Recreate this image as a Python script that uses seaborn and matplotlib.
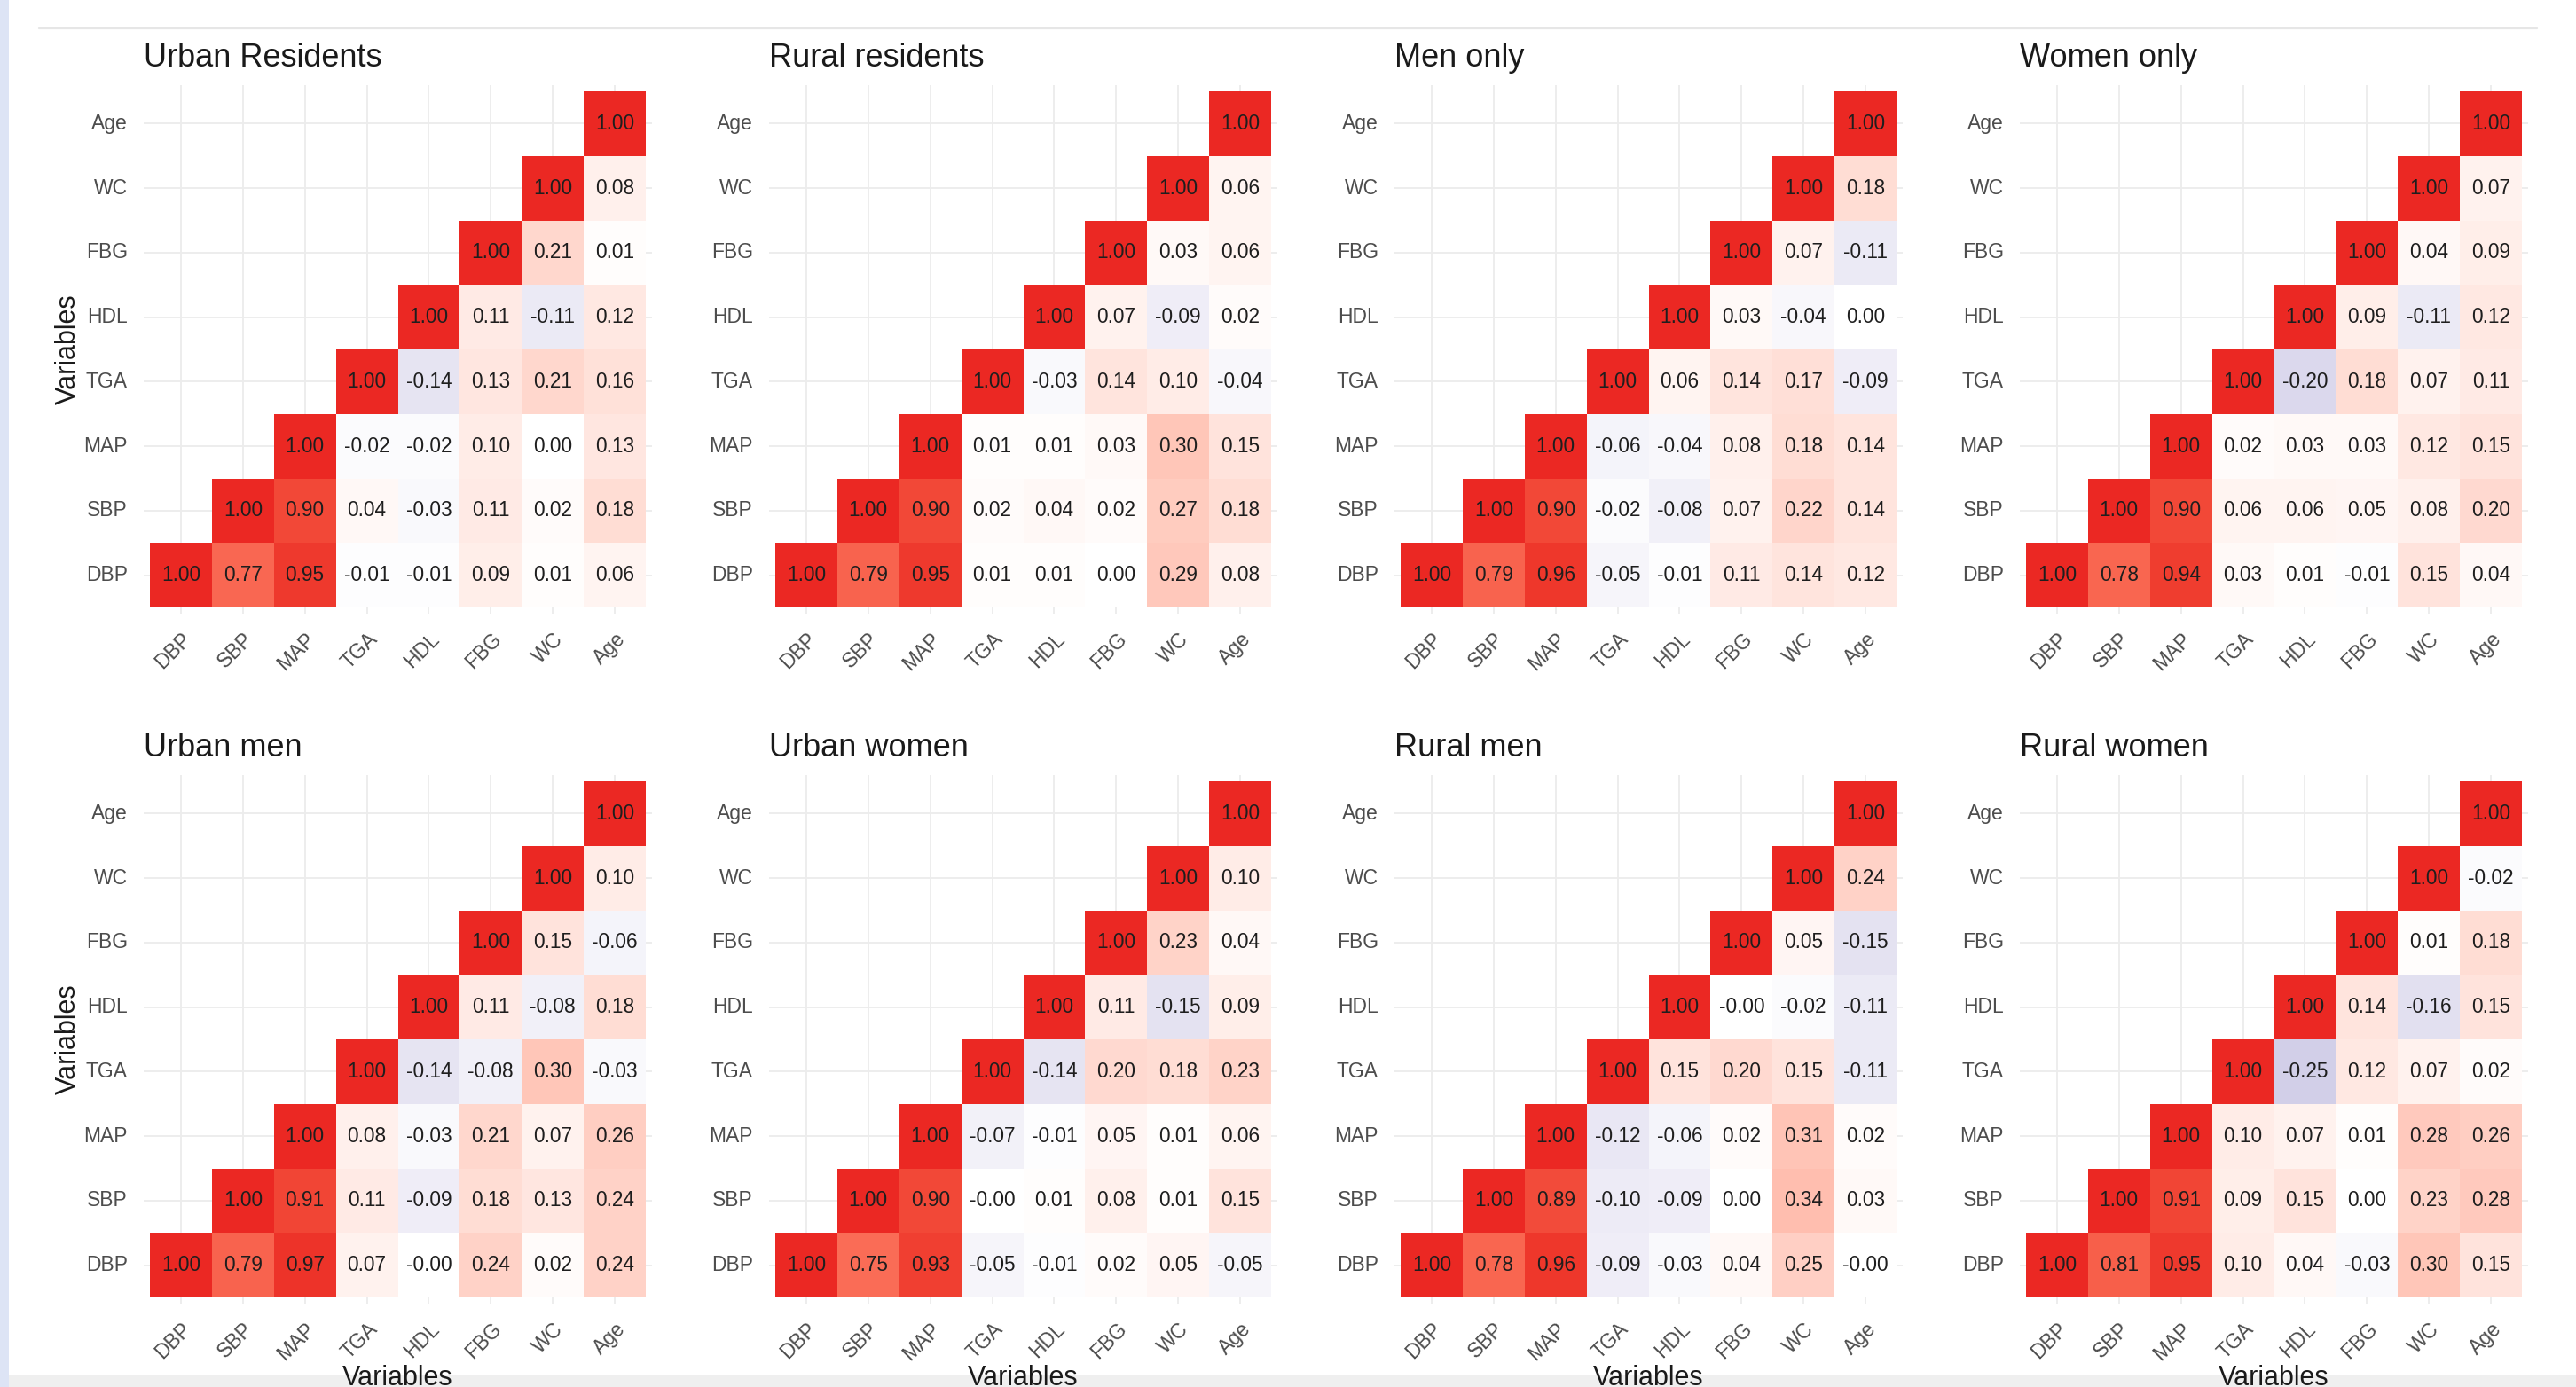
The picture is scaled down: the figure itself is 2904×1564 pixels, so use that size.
import numpy as np
import pandas as pd
import matplotlib
matplotlib.use("Agg")
import matplotlib.pyplot as plt
import seaborn as sns
from matplotlib.colors import ListedColormap, to_rgb
from matplotlib.patches import Rectangle
from matplotlib.lines import Line2D

# ---------------- data ----------------
variables = ["DBP", "SBP", "MAP", "TGA", "HDL", "FBG", "WC", "Age"]

panel_titles = ["Urban Residents", "Rural residents", "Men only", "Women only",
                "Urban men", "Urban women", "Rural men", "Rural women"]

# each row: correlations of a variable with itself and the variables after it
urban_residents = [
    [1.00, 0.77, 0.95, -0.01, -0.01, 0.09, 0.01, 0.06],
    [1.00, 0.90, 0.04, -0.03, 0.11, 0.02, 0.18],
    [1.00, -0.02, -0.02, 0.10, 0.00, 0.13],
    [1.00, -0.14, 0.13, 0.21, 0.16],
    [1.00, 0.11, -0.11, 0.12],
    [1.00, 0.21, 0.01],
    [1.00, 0.08],
    [1.00],
]
rural_residents = [
    [1.00, 0.79, 0.95, 0.01, 0.01, 0.00, 0.29, 0.08],
    [1.00, 0.90, 0.02, 0.04, 0.02, 0.27, 0.18],
    [1.00, 0.01, 0.01, 0.03, 0.30, 0.15],
    [1.00, -0.03, 0.14, 0.10, -0.04],
    [1.00, 0.07, -0.09, 0.02],
    [1.00, 0.03, 0.06],
    [1.00, 0.06],
    [1.00],
]
men_only = [
    [1.00, 0.79, 0.96, -0.05, -0.01, 0.11, 0.14, 0.12],
    [1.00, 0.90, -0.02, -0.08, 0.07, 0.22, 0.14],
    [1.00, -0.06, -0.04, 0.08, 0.18, 0.14],
    [1.00, 0.06, 0.14, 0.17, -0.09],
    [1.00, 0.03, -0.04, 0.00],
    [1.00, 0.07, -0.11],
    [1.00, 0.18],
    [1.00],
]
women_only = [
    [1.00, 0.78, 0.94, 0.03, 0.01, -0.01, 0.15, 0.04],
    [1.00, 0.90, 0.06, 0.06, 0.05, 0.08, 0.20],
    [1.00, 0.02, 0.03, 0.03, 0.12, 0.15],
    [1.00, -0.20, 0.18, 0.07, 0.11],
    [1.00, 0.09, -0.11, 0.12],
    [1.00, 0.04, 0.09],
    [1.00, 0.07],
    [1.00],
]
urban_men = [
    [1.00, 0.79, 0.97, 0.07, -0.00, 0.24, 0.02, 0.24],
    [1.00, 0.91, 0.11, -0.09, 0.18, 0.13, 0.24],
    [1.00, 0.08, -0.03, 0.21, 0.07, 0.26],
    [1.00, -0.14, -0.08, 0.30, -0.03],
    [1.00, 0.11, -0.08, 0.18],
    [1.00, 0.15, -0.06],
    [1.00, 0.10],
    [1.00],
]
urban_women = [
    [1.00, 0.75, 0.93, -0.05, -0.01, 0.02, 0.05, -0.05],
    [1.00, 0.90, -0.00, 0.01, 0.08, 0.01, 0.15],
    [1.00, -0.07, -0.01, 0.05, 0.01, 0.06],
    [1.00, -0.14, 0.20, 0.18, 0.23],
    [1.00, 0.11, -0.15, 0.09],
    [1.00, 0.23, 0.04],
    [1.00, 0.10],
    [1.00],
]
rural_men = [
    [1.00, 0.78, 0.96, -0.09, -0.03, 0.04, 0.25, -0.00],
    [1.00, 0.89, -0.10, -0.09, 0.00, 0.34, 0.03],
    [1.00, -0.12, -0.06, 0.02, 0.31, 0.02],
    [1.00, 0.15, 0.20, 0.15, -0.11],
    [1.00, -0.00, -0.02, -0.11],
    [1.00, 0.05, -0.15],
    [1.00, 0.24],
    [1.00],
]
rural_women = [
    [1.00, 0.81, 0.95, 0.10, 0.04, -0.03, 0.30, 0.15],
    [1.00, 0.91, 0.09, 0.15, 0.00, 0.23, 0.28],
    [1.00, 0.10, 0.07, 0.01, 0.28, 0.26],
    [1.00, -0.25, 0.12, 0.07, 0.02],
    [1.00, 0.14, -0.16, 0.15],
    [1.00, 0.01, 0.18],
    [1.00, -0.02],
    [1.00],
]
panel_data = [urban_residents, rural_residents, men_only, women_only,
              urban_men, urban_women, rural_men, rural_women]

# ---------------- colours (Lab interpolation like ggplot gradient2) ----------------
def _srgb_to_lab(rgb):
    c = np.asarray(rgb, float)
    lin = np.where(c <= 0.04045, c / 12.92, ((c + 0.055) / 1.055) ** 2.4)
    M = np.array([[0.4124, 0.3576, 0.1805], [0.2126, 0.7152, 0.0722], [0.0193, 0.1192, 0.9505]])
    xyz = M @ lin / np.array([0.95047, 1.0, 1.08883])
    f = np.where(xyz > 0.008856, np.cbrt(xyz), 7.787 * xyz + 16 / 116)
    return np.array([116 * f[1] - 16, 500 * (f[0] - f[1]), 200 * (f[1] - f[2])])

def _lab_to_srgb(lab):
    L, a, b = lab
    fy = (L + 16) / 116
    fx = fy + a / 500
    fz = fy - b / 200
    f = np.array([fx, fy, fz])
    xyz = np.where(f ** 3 > 0.008856, f ** 3, (f - 16 / 116) / 7.787) * np.array([0.95047, 1.0, 1.08883])
    Minv = np.array([[3.2406, -1.5372, -0.4986], [-0.9689, 1.8758, 0.0415], [0.0557, -0.2040, 1.0570]])
    lin = np.clip(Minv @ xyz, 0, 1)
    s = np.where(lin <= 0.0031308, 12.92 * lin, 1.055 * lin ** (1 / 2.4) - 0.055)
    return np.clip(s, 0, 1)

low_lab = _srgb_to_lab(to_rgb("#464CA2"))
mid_lab = _srgb_to_lab(to_rgb("#FFFFFF"))
high_lab = _srgb_to_lab(to_rgb("#EB2823"))
cols = []
for v in np.linspace(-1, 1, 511):
    if v < 0:
        lab = mid_lab + (-v) * (low_lab - mid_lab)
    else:
        lab = mid_lab + v * (high_lab - mid_lab)
    cols.append(_lab_to_srgb(lab))
cmap = ListedColormap(cols)

# ---------------- figure ----------------
sns.set_theme(style="white")
plt.rcParams["font.family"] = ["Liberation Sans", "DejaVu Sans"]

W, H = 2904, 1564
fig = plt.figure(figsize=(W / 100, H / 100), dpi=100)
fig.patch.set_facecolor("white")

# screenshot frame details
fig.patches.append(Rectangle((0, 0), 10 / W, 1, transform=fig.transFigure,
                             facecolor="#dde4f5", edgecolor="none", zorder=-2))
fig.patches.append(Rectangle((10 / W, 0), 1, 14 / H, transform=fig.transFigure,
                             facecolor="#efefef", edgecolor="none", zorder=-2))
fig.lines.append(Line2D([44 / W, 2860 / W], [1 - 32 / H, 1 - 32 / H], transform=fig.transFigure,
                        color="#e6e6e6", lw=1.6, zorder=-1))

cell_w = 559 / 8
cell_h = 582 / 8
disp_rows = variables[::-1]

for idx, (title, rows) in enumerate(zip(panel_titles, panel_data)):
    r, c = divmod(idx, 4)
    cl = 169 + 705 * c
    ct = 103 + 778 * r
    ax_l = cl - 0.1 * cell_w
    ax_t = ct - 0.1 * cell_h
    ax_w = 8.2 * cell_w
    ax_h = 8.2 * cell_h
    ax = fig.add_axes([ax_l / W, 1 - (ax_t + ax_h) / H, ax_w / W, ax_h / H])

    m = np.full((8, 8), np.nan)
    for i, row in enumerate(rows):
        for k, v in enumerate(row):
            m[i, i + k] = v
    df = pd.DataFrame(m, index=variables, columns=variables).loc[disp_rows]
    mask = df.isna()

    sns.heatmap(df, mask=mask, cmap=cmap, vmin=-1, vmax=1, annot=True, fmt=".2f",
                cbar=False, linewidths=0, ax=ax,
                annot_kws={"fontsize": 16.3, "color": "#1e1e1e"})
    ax.set_xlim(-0.1, 8.1)
    ax.set_ylim(8.1, -0.1)
    ax.set_axisbelow(True)
    ax.grid(True, color="#ececec", linewidth=1.3)
    for s in ax.spines.values():
        s.set_visible(False)
    ax.set_facecolor("white")

    ax.tick_params(axis="both", length=0, labelsize=16.5, labelcolor="#4d4d4d")
    ax.tick_params(axis="y", pad=13.0)
    ax.tick_params(axis="x", pad=12.0)
    plt.setp(ax.get_yticklabels(), rotation=0, va="center", ha="right")
    plt.setp(ax.get_xticklabels(), rotation=45, ha="right", va="top", rotation_mode="anchor")

    ax.set_title(title, loc="left", fontsize=26, color="#1a1a1a", pad=15)

    if c == 0:
        ax.set_ylabel("Variables", fontsize=22, color="#1a1a1a")
        ax.yaxis.set_label_coords((92 - ax_l) / ax_w, 0.5)
    else:
        ax.set_ylabel("")
    if r == 1:
        ax.set_xlabel("Variables", fontsize=22, color="#1a1a1a")
        ax.xaxis.set_label_coords(0.5, -(1539 - (ax_t + ax_h)) / ax_h)
    else:
        ax.set_xlabel("")

fig.savefig("out.png", dpi=100, facecolor="white")
